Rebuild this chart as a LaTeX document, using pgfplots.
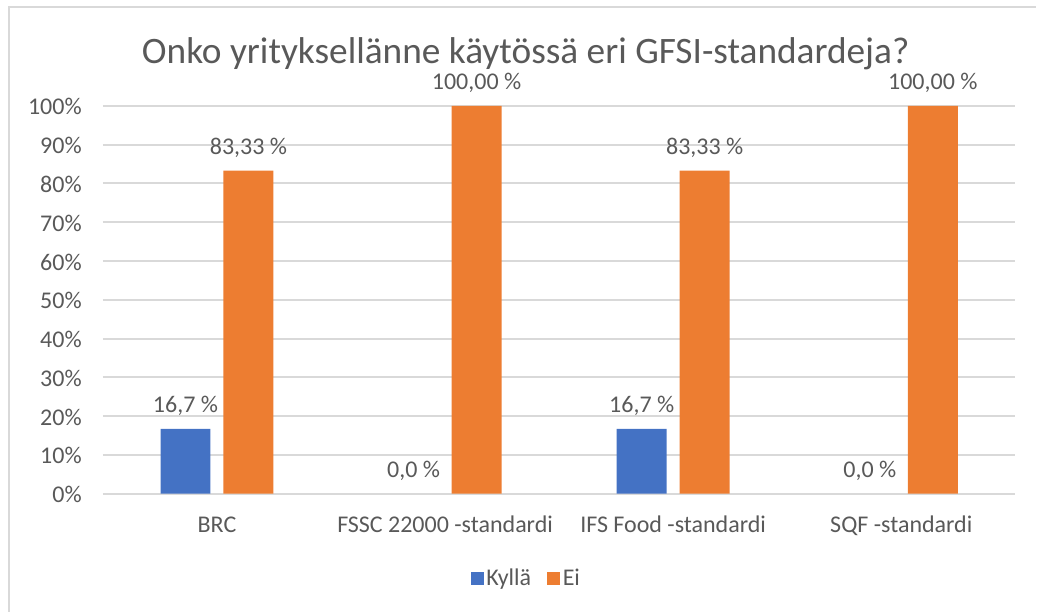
\documentclass[border=0pt]{standalone}
\usepackage{pgfplots}
\pgfplotsset{compat=1.18}
\usepackage{fontspec}
\setmainfont{Carlito}
\definecolor{cblue}{HTML}{4472C4}
\definecolor{corange}{HTML}{ED7D31}
\definecolor{ctext}{HTML}{595959}
\definecolor{cgrid}{HTML}{D9D9D9}
\begin{document}
\begin{tikzpicture}
\path (0,0) rectangle (777.75pt,459pt);
\draw[cgrid, line width=1pt] (6.75pt,0pt) -- (6.75pt,453.75pt) -- (777.75pt,453.75pt);
\node[anchor=base, text=ctext, font=\fontsize{28}{32}\selectfont, inner sep=0pt] at (394.5pt,411pt) {Onko yrityksellänne käytössä eri GFSI-standardeja?};
\begin{axis}[
  at={(77.25pt,88.5pt)}, anchor=south west,
  scale only axis, width=684.75pt, height=291pt,
  xmin=-0.5, xmax=3.5, ymin=0, ymax=100, enlargelimits=false,
  clip=false,
  ybar, bar width=37.5pt,
  axis line style={draw=none},
  major tick length=0pt,
  ymajorgrids, major grid style={draw=cgrid, line width=1.5pt},
  ytick={0,10,...,100},
  yticklabels={0\%,10\%,20\%,30\%,40\%,50\%,60\%,70\%,80\%,90\%,100\%},
  xtick={0,1,2,3},
  xticklabels={BRC,FSSC 22000 -standardi,IFS Food -standardi,SQF -standardi},
  tick label style={font=\fontsize{18}{22}\selectfont, text=ctext, inner sep=0pt},
  yticklabel style={anchor=base east, xshift=-15.75pt, yshift=-6.75pt},
  xticklabel style={anchor=base, yshift=-29.25pt},
  point meta=explicit symbolic,
  nodes near coords,
  every node near coord/.append style={anchor=base, yshift=12pt, inner sep=0pt, font=\fontsize{18}{22}\selectfont, text=ctext},
  legend columns=2,
  legend style={at={(0.4644,-0.219)}, anchor=center, draw=none, fill=none, font=\fontsize{18}{22}\selectfont, text=ctext,
    /tikz/every even column/.append style={column sep=10pt}},
  legend image code/.code={\fill[#1] (0pt,-4.9pt) rectangle (9.75pt,4.9pt);},
]
\addplot[fill=cblue, draw=none, bar shift=-23.625pt] coordinates {(0,16.7) [16,7 \%] (2,16.7) [16,7 \%]};
\addplot[fill=corange, draw=none, bar shift=23.625pt] coordinates {(0,83.33) [83,33 \%] (1,100) [100,00 \%] (2,83.33) [83,33 \%] (3,100) [100,00 \%]};
\addplot[fill=none, draw=none, bar shift=-23.625pt, forget plot] coordinates {(1,0) [0,0 \%] (3,0) [0,0 \%]};
\legend{Kyllä,Ei}
\end{axis}
\end{tikzpicture}
\end{document}
